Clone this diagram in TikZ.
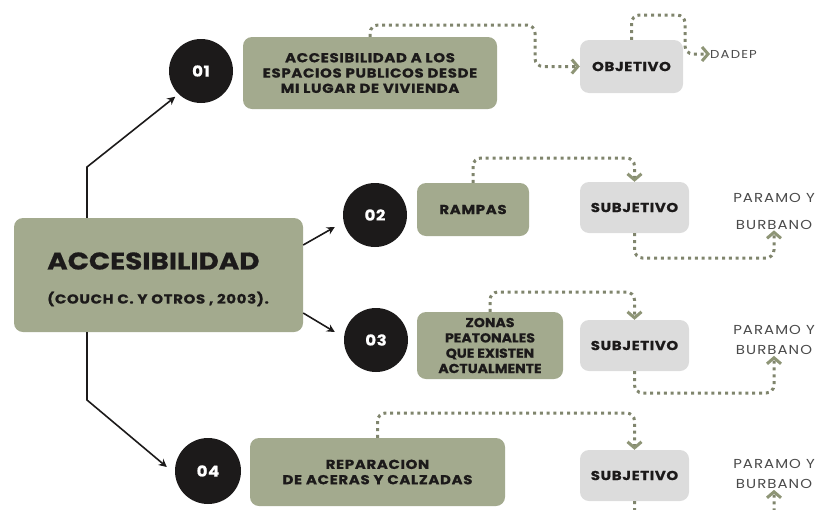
\documentclass[tikz,border=0pt]{standalone}
\usepackage{fontspec}
\setmainfont{Poppins}
\usetikzlibrary{arrows.meta}
\definecolor{sage}{HTML}{A3AA8E}
\definecolor{lgray}{HTML}{DCDCDC}
\definecolor{dotcol}{HTML}{80856D}
\definecolor{chevcol}{HTML}{8E9576}
\definecolor{ink}{HTML}{1C1A1A}
\definecolor{soft}{HTML}{4A4A4A}
\newcommand{\lspc}[2]{\addfontfeatures{LetterSpace=#1,FakeStretch=#2}}
\newcommand{\hvy}[2]{\addfontfeatures{LetterSpace=#1,FakeStretch=#2,FakeBold=0.7}}
\tikzset{
  sagebox/.style={fill=sage, rounded corners=9pt, align=center, text=ink, font=\bfseries\fontsize{13}{15.3}\selectfont\hvy{5}{1.15}},
  graybox/.style={fill=lgray, rounded corners=9pt, align=center, text=ink, minimum width=109pt, minimum height=51pt, font=\bfseries\fontsize{13}{14}\selectfont\hvy{5}{1.15}},
  numcirc/.style={circle, fill=ink, text=white, minimum size=64pt, inner sep=0pt, font=\bfseries\fontsize{15}{16}\selectfont\hvy{4}{1.1}},
  plabel/.style={align=center, text=soft, inner sep=1pt, font=\fontsize{13}{20}\selectfont\lspc{8}{1.15}},
  blk/.style={line width=1.6pt, ink, -{Stealth[length=8pt,width=8pt]}},
  dotc/.style={line width=3pt, dotcol, dash pattern=on 3pt off 3.8pt, rounded corners=8pt,
    -{Straight Barb[length=6pt,width=14pt,line width=3pt,color=chevcol]}}
}
\begin{document}
\begin{tikzpicture}[x=1pt,y=-1pt]
\useasboundingbox (0,0) rectangle (819,509);
% main
\node[fill=sage, rounded corners=9pt, minimum width=289pt, minimum height=114pt] (main) at (158.5,275) {};
\node[anchor=west, text=ink, inner sep=0pt, font=\bfseries\fontsize{24}{28}\selectfont\hvy{0}{1.16}] (mt) at (47,261) {ACCESIBILIDAD};
\node[anchor=west, text=ink, inner sep=0pt, font=\bfseries\fontsize{13}{14}\selectfont\hvy{5}{1.15}] (ms) at (47,299) {(COUCH C. Y OTROS , 2003).};
% circles
\node[numcirc] (c1) at (201,71) {01};
\node[numcirc] (c2) at (375,215) {02};
\node[numcirc] (c3) at (376,340) {03};
\node[numcirc, minimum size=66pt] (c4) at (208,471) {04};
% sage boxes
\node[sagebox, minimum width=254pt, minimum height=72pt] (b1) at (370,73) {ACCESIBILIDAD A LOS\\ESPACIOS PUBLICOS DESDE\\MI LUGAR DE VIVIENDA};
\node[sagebox, minimum width=112pt, minimum height=53pt] (rampas) at (473,209.5) {RAMPAS};
\node[sagebox, minimum width=146pt, minimum height=67pt, font=\bfseries\fontsize{13}{15.3}\selectfont\hvy{0}{1.08}] (zonas) at (490,345.5) {ZONAS\\PEATONALES\\QUE EXISTEN\\ACTUALMENTE};
\node[sagebox, minimum width=255pt, minimum height=68pt] (rep) at (377.5,472) {REPARACION\\DE ACERAS Y CALZADAS};
% gray boxes
\node[graybox, minimum width=103pt, minimum height=53pt] (obj) at (631.5,66.5) {OBJETIVO};
\node[graybox] (s2) at (634.5,207.5) {SUBJETIVO};
\node[graybox] (s3) at (634.5,345.5) {SUBJETIVO};
\node[graybox] (s4) at (634.5,475.5) {SUBJETIVO};
% labels
\node[anchor=west, text=soft, inner sep=0pt, font=\fontsize{11.5}{12}\selectfont\lspc{10}{1.15}] (dadep) at (710,54) {DADEP};
\node[plabel, font=\fontsize{13}{27}\selectfont\lspc{8}{1.15}] (p2) at (774,211) {PARAMO Y\\BURBANO};
\node[plabel] (p3) at (774,340) {PARAMO Y\\BURBANO};
\node[plabel] (p4) at (774,474) {PARAMO Y\\BURBANO};
% black arrows
\draw[blk] (main.north -| 87,0) -- (87,167) -- ([shift={(-3pt,-3pt)}]c1.south west);
\draw[blk] (main.south -| 87,0) -- (87,400) -- ([xshift=-8pt,yshift=4pt]c4.west);
\draw[blk] (main.east |- 0,245) -- ([xshift=-8pt,yshift=-12pt]c2.west);
\draw[blk] (main.east |- 0,313) -- ([xshift=-9pt,yshift=8pt]c3.west);
% dotted connectors
\draw[dotc] (b1.north) -- (b1.north |- 0,25) -- (535,25) -- (535,66.5) -- (obj.west);
\draw[dotc] (obj.north) -- (obj.north |- 0,15) -- (685,15) -- (685,54) -- (dadep.west);
\draw[dotc] (rampas.north) -- (rampas.north |- 0,158) -- (s2.north |- 0,158) -- (s2.north);
\draw[dotc] (s2.south) -- (s2.south |- 0,258) -- (p2.south |- 0,258) -- (p2.south);
\draw[dotc] (zonas.north) -- (zonas.north |- 0,292) -- (s3.north |- 0,292) -- (s3.north);
\draw[dotc] (s3.south) -- (s3.south |- 0,393) -- (p3.south |- 0,393) -- (p3.south);
\draw[dotc] (rep.north) -- (rep.north |- 0,413) -- (s4.north |- 0,413) -- (s4.north);
\draw[dotc] (s4.south) -- (s4.south |- 0,525) -- (p4.south |- 0,525) -- (p4.south);
\end{tikzpicture}
\end{document}
